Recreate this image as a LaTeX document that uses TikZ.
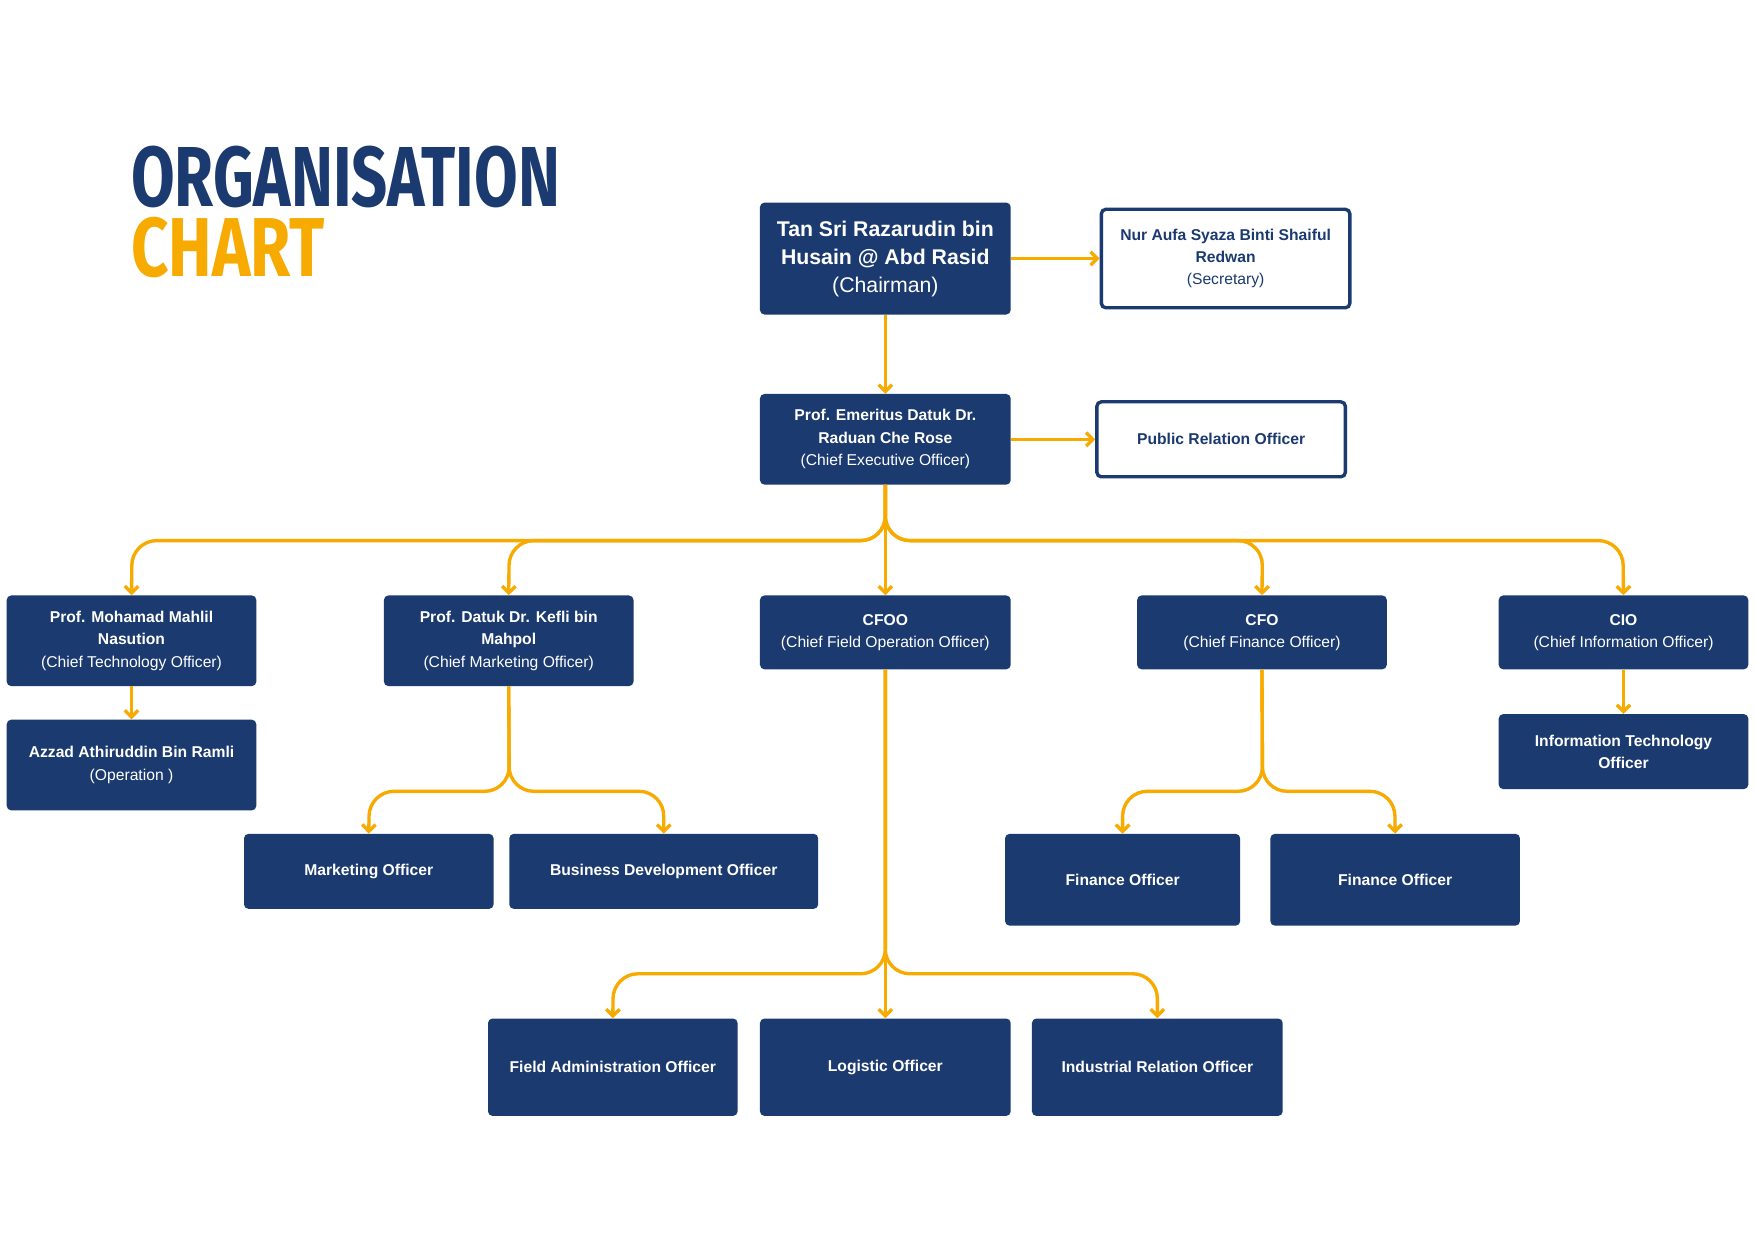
\documentclass[tikz,border=0pt]{standalone}
\usepackage{fontspec}
\setmainfont{Liberation Sans}
\newfontfamily\titlefont{Fira Sans}
\usetikzlibrary{arrows.meta}
\definecolor{navy}{HTML}{1B3A6F}
\definecolor{gold}{HTML}{F7AA00}
\begin{document}
\begin{tikzpicture}[x=1pt,y=-1pt,
 box/.style={fill=navy,rounded corners=4pt,text=white,align=center,inner sep=0pt,font=\fontsize{14}{20}\selectfont},
 wbox/.style={draw=navy,line width=3pt,fill=white,rounded corners=4pt,text=navy,align=center,inner sep=0pt,font=\fontsize{14}{20}\selectfont},
 con/.style={draw=gold,line width=3pt,rounded corners=22pt,-{Straight Barb[length=6pt,width=12pt,line width=3pt]}}]
\useasboundingbox (0,0) rectangle (1568,1108);
\fill[white] (0,0) rectangle (1568,1108);
\newcommand{\bx}[7]{\node[#1,minimum width=#4-#2,minimum height=#5-#3] (#6) at ({(#2+#4)/2},{(#3+#5)/2}) {#7};}
\node[anchor=north west,inner sep=0,text=navy] (t1) at (117,130) {\resizebox{383pt}{54pt}{\titlefont\bfseries ORGANISATION}};
\node[anchor=north west,inner sep=0,text=gold] (t2) at (117,194) {\resizebox{173pt}{53pt}{\titlefont\bfseries CHART}};
\bx{box,font=\fontsize{19}{25}\selectfont}{679}{181}{903}{281}{ch}{\textbf{Tan Sri Razarudin bin}\\\textbf{Husain @ Abd Rasid}\\(Chairman)}
\bx{wbox}{984}{187}{1206}{275}{sec}{\textbf{Nur Aufa Syaza Binti Shaiful}\\\textbf{Redwan}\\(Secretary)}
\bx{box}{679}{352}{903}{433}{ceo}{\textbf{Prof. Emeritus Datuk Dr.}\\\textbf{Raduan Che Rose}\\(Chief Executive Officer)}
\bx{wbox}{980}{359}{1202}{426}{pro}{\textbf{Public Relation Officer}}
\bx{box}{6}{532}{229}{613}{cto}{\textbf{Prof. Mohamad Mahlil}\\\textbf{Nasution}\\(Chief Technology Officer)}
\bx{box}{343}{532}{566}{613}{cmo}{\textbf{Prof. Datuk Dr. Kefli bin}\\\textbf{Mahpol}\\(Chief Marketing Officer)}
\bx{box}{679}{532}{903}{598}{cfoo}{\textbf{CFOO}\\(Chief Field Operation Officer)}
\bx{box}{1016}{532}{1239}{598}{cfo}{\textbf{CFO}\\(Chief Finance Officer)}
\bx{box}{1339}{532}{1562}{598}{cio}{\textbf{CIO}\\(Chief Information Officer)}
\bx{box}{6}{643}{229}{724}{az}{\textbf{Azzad Athiruddin Bin Ramli}\\(Operation )}
\bx{box}{1339}{638}{1562}{705}{it}{\textbf{Information Technology}\\\textbf{Officer}}
\bx{box}{218}{745}{441}{812}{mk}{\textbf{Marketing Officer}}
\bx{box}{455}{745}{731}{812}{bd}{\textbf{Business Development Officer}}
\bx{box}{898}{745}{1108}{827}{f1}{\textbf{Finance Officer}}
\bx{box}{1135}{745}{1358}{827}{f2}{\textbf{Finance Officer}}
\bx{box}{436}{910}{659}{997}{fa}{\textbf{Field Administration Officer}}
\bx{box}{679}{910}{903}{997}{lo}{\textbf{Logistic Officer}}
\bx{box}{922}{910}{1146}{997}{ir}{\textbf{Industrial Relation Officer}}
\draw[con] (ch.east) -- (sec.west);
\draw[con] (ceo.east) -- (pro.west);
\draw[con] (ch.south) -- (ceo.north);
\draw[con] (ceo.south) -- (791,483) -- (118,483) -- (cto.north);
\draw[con] (ceo.south) -- (791,483) -- (455,483) -- (cmo.north);
\draw[con] (ceo.south) -- (cfoo.north);
\draw[con] (ceo.south) -- (791,483) -- (1128,483) -- (cfo.north);
\draw[con] (ceo.south) -- (791,483) -- (1450,483) -- (cio.north);
\draw[con] (cto.south) -- (az.north);
\draw[con] (cio.south) -- (it.north);
\draw[con] (cmo.south) -- (455,707) -- (330,707) -- (mk.north);
\draw[con] (cmo.south) -- (455,707) -- (593,707) -- (bd.north);
\draw[con] (cfo.south) -- (1128,707) -- (1003,707) -- (f1.north);
\draw[con] (cfo.south) -- (1128,707) -- (1246,707) -- (f2.north);
\draw[con] (cfoo.south) -- (791,870) -- (548,870) -- (fa.north);
\draw[con] (cfoo.south) -- (lo.north);
\draw[con] (cfoo.south) -- (791,870) -- (1034,870) -- (ir.north);
\end{tikzpicture}
\end{document}
